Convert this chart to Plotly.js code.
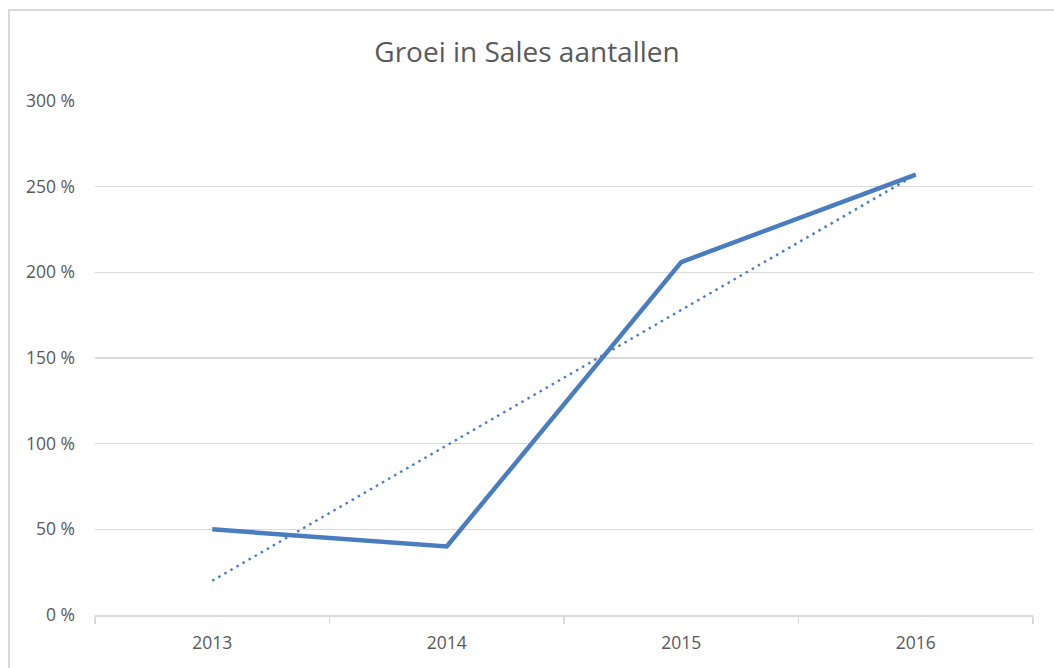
<!DOCTYPE html>
<html><head><meta charset="utf-8">
<script src="https://cdn.plot.ly/plotly-3.0.1.min.js"></script>
<style>html,body{margin:0;padding:0;background:#fff;}#chart{width:1054px;height:668px;}</style>
</head><body><div id="chart"></div>
<script>
const categories = ['2013', '2014', '2015', '2016'];
const growthPct = [50, 40, 206, 257];
const trendX = ['2013', '2016'];
const trendPct = [20, 257];
const yTickVals = [0, 50, 100, 150, 200, 250, 300];
const yTickText = ['0 %', '50 %', '100 %', '150 %', '200 %', '250 %', '300 %'];

const blue = '#4a7cc0';
const traces = [
  {x: categories, y: growthPct, type: 'scatter', mode: 'lines',
   line: {color: blue, width: 4.5}, hoverinfo: 'skip', showlegend: false},
  {x: trendX, y: trendPct, type: 'scatter', mode: 'lines',
   line: {color: blue, width: 2.5, dash: '2.5px,4.5px'}, hoverinfo: 'skip', showlegend: false}
];
const layout = {
  width: 1054, height: 668,
  margin: {l: 95, r: 21, t: 101, b: 53},
  paper_bgcolor: '#ffffff', plot_bgcolor: '#ffffff',
  font: {family: 'Open Sans, sans-serif', color: '#595959'},
  title: {text: 'Groei in Sales aantallen', font: {size: 28, color: '#595959'},
          x: 0.5, xanchor: 'center', y: 0.922, yanchor: 'middle'},
  xaxis: {type: 'category', categoryorder: 'array', categoryarray: categories,
          range: [-0.5, 3.5], showgrid: false, zeroline: false,
          showline: true, linecolor: '#d9d9d9', linewidth: 1.5,
          ticks: 'outside', tickson: 'boundaries', ticklen: 7, tickcolor: '#d9d9d9', tickwidth: 1.5,
          tickfont: {size: 17.5, color: '#595959'}, ticklabelstandoff: 11, fixedrange: true},
  yaxis: {range: [0, 300], tickvals: yTickVals, ticktext: yTickText,
          showgrid: true, gridcolor: '#d9d9d9', gridwidth: 1.5, zeroline: false,
          showline: false, ticks: '', tickfont: {size: 17.5, color: '#595959'},
          ticklabelstandoff: 19, fixedrange: true},
  shapes: [{type: 'rect', xref: 'paper', yref: 'paper',
            x0: -0.0917, x1: 1.2, y0: -0.3, y1: 1.177,
            line: {color: '#d9d9d9', width: 2}, fillcolor: 'rgba(0,0,0,0)', layer: 'below'}]
};
Plotly.newPlot('chart', traces, layout, {displayModeBar: false, staticPlot: true});
</script></body></html>
